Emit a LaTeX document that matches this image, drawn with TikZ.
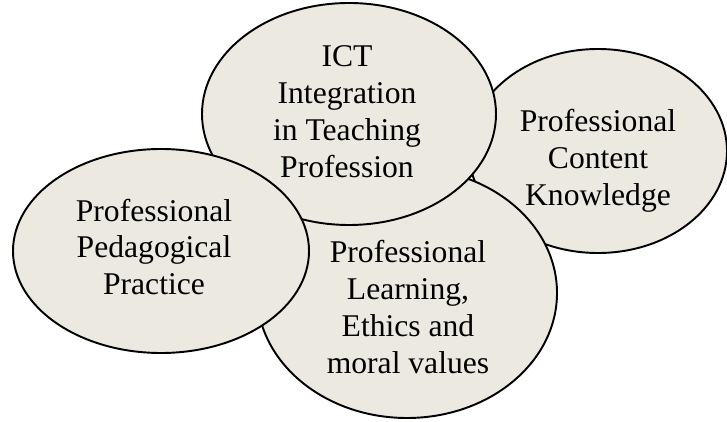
\documentclass[tikz,border=0pt]{standalone}
\usepackage{fontspec}
\setmainfont{Liberation Serif}
\usepackage{tikz}
\usetikzlibrary{
    positioning
}
\definecolor{bubblefill}{RGB}{236,234,224}
\tikzset{
    % Colors
    bubble color/.style={fill=bubblefill,draw=black},
    %
    % Ellipses and their labels
    bubble/.style={bubble color,line width=1.1pt},
    bubble text/.style={align=center,inner sep=0pt,font=\fontsize{18}{21}\selectfont},
}

\begin{document}
\begin{tikzpicture}[x=0.02cm,y=-0.02cm]
        \useasboundingbox (0,0) rectangle (727,422);
        % back to front
        \draw[bubble] (598,151) ellipse [x radius=129, y radius=102];
        \node[bubble text] (content) at (598,161) {Professional\\Content\\Knowledge};
        \draw[bubble] (407,293) ellipse [x radius=150, y radius=125];
        \node[bubble text] (ethics) at (408,307) {Professional\\Learning,\\Ethics and\\moral values};
        \draw[bubble] (349,114) ellipse [x radius=147, y radius=111];
        \node[bubble text] (ict) at (347,112) {ICT\\Integration\\in Teaching\\Profession};
        \draw[bubble] (161,251) ellipse [x radius=148, y radius=102];
        \node[bubble text] (practice) at (154,247) {Professional\\Pedagogical\\Practice};
    \end{tikzpicture}
\end{document}
